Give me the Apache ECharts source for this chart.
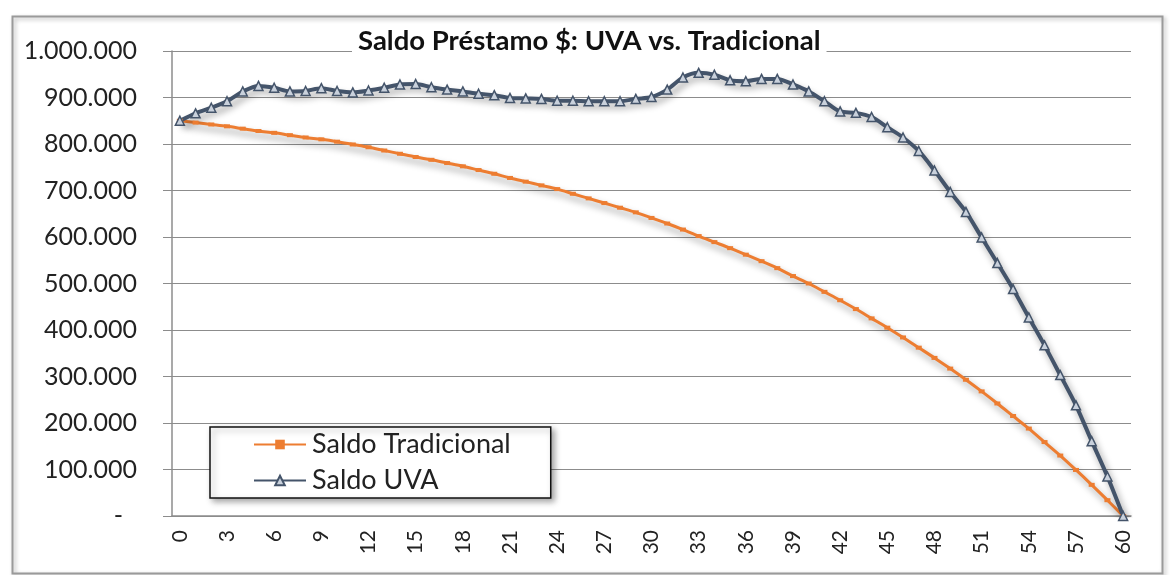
<!DOCTYPE html>
<html>
<head>
<meta charset="utf-8">
<script src="https://cdn.jsdelivr.net/npm/echarts@6/dist/echarts.min.js"></script>
<style>
  html, body { margin: 0; padding: 0; background: #fff; }
  #chart { width: 1171px; height: 575px; }
</style>
</head>
<body>
<div id="chart"></div>
<script>
// periodos 0..60
const periodos = Array.from({ length: 61 }, (_, i) => String(i));

const saldoTradicional = [
  850000, 846000, 842000, 838000, 833000, 828000, 824000, 819000, 814000, 810000,
  805000, 799000, 793000, 786000, 779000, 772000, 766000, 759000, 752000, 744000,
  736000, 727000, 719000, 711000, 703000, 693000, 683000, 673000, 663000, 653000,
  641000, 629000, 616000, 602000, 589000, 576000, 562000, 548000, 533000, 516000,
  500000, 482000, 464000, 445000, 425000, 405000, 384000, 362000, 340000, 317000,
  293000, 268000, 242000, 215000, 188000, 159000, 130000, 99000, 67000, 34000, 0
];

const saldoUVA = [
  850000, 866000, 878000, 892000, 913000, 925000, 921000, 913000, 914000, 920000,
  914000, 911000, 915000, 921000, 928000, 929000, 922000, 917000, 913000, 908000,
  905000, 899000, 898000, 897000, 893000, 893000, 892000, 892000, 892000, 897000,
  901000, 917000, 943000, 953000, 949000, 937000, 935000, 940000, 940000, 928000,
  913000, 892000, 870000, 867000, 858000, 836000, 814000, 785000, 743000, 697000,
  654000, 599000, 544000, 488000, 427000, 367000, 303000, 238000, 161000, 85000, 0
];

const FONT = "Lato";

const valReplaceComma = (value, elem) => {
  return value.toString().replace(/\B(?=(\d{3})+(?!\d))/g, elem || " ");
};

const lineShadow = {
  shadowColor: "rgba(0,0,0,0.4)",
  shadowBlur: 7,
  shadowOffsetX: 3,
  shadowOffsetY: 5
};

const option = {
  animation: false,
  backgroundColor: "#fff",
  title: {
    text: "Saldo Préstamo $: UVA vs. Tradicional",
    left: 352,
    top: 25,
    padding: [2, 6, 4, 6],
    backgroundColor: "#fff",
    textStyle: { fontFamily: FONT, fontSize: 27.5, fontWeight: "bold", color: "#111" }
  },
  legend: {
    orient: "vertical",
    left: 210,
    top: 427,
    padding: [4, 40, 4, 43],
    itemWidth: 52,
    itemHeight: 12,
    itemGap: 9,
    borderColor: "#111",
    borderWidth: 1.5,
    backgroundColor: "#fff",
    shadowColor: "rgba(0,0,0,0.35)",
    shadowBlur: 6,
    shadowOffsetX: 3,
    shadowOffsetY: 3,
    textStyle: { fontFamily: FONT, fontSize: 27, color: "#222", padding: [0, 0, 0, 1] },
    data: ["Saldo Tradicional", "Saldo UVA"]
  },
  grid: { left: 172, right: 40, top: 51, bottom: 59 },
  xAxis: {
    type: "category",
    data: periodos,
    boundaryGap: true,
    axisLine: { lineStyle: { color: "#8c8c8c", width: 1.5 } },
    axisTick: { interval: 0, length: 6, lineStyle: { color: "#8c8c8c" } },
    axisLabel: {
      interval: 2,
      rotate: 90,
      margin: 14,
      fontFamily: FONT,
      fontSize: 21,
      color: "#222"
    }
  },
  yAxis: {
    type: "value",
    min: 0,
    max: 1000000,
    interval: 100000,
    axisLine: { show: true, lineStyle: { color: "#8c8c8c", width: 1.5 } },
    axisTick: { show: true, length: 9, lineStyle: { color: "#8c8c8c" } },
    splitLine: { lineStyle: { color: "#8c8c8c", width: 1.2 } },
    axisLabel: {
      margin: 35,
      fontFamily: FONT,
      fontSize: 25,
      color: "#222",
      formatter: (v) => (v === 0 ? "{z|-}" : valReplaceComma(v, ".")),
      rich: { z: { fontFamily: FONT, fontSize: 25, color: "#222", padding: [0, 14, 0, 0] } }
    }
  },
  graphic: [
    {
      type: "rect",
      left: 10,
      top: 14,
      shape: { width: 1150, height: 557 },
      style: {
        fill: "none",
        stroke: "#9a9a9a",
        lineWidth: 2,
        shadowColor: "rgba(0,0,0,0.3)",
        shadowBlur: 4,
        shadowOffsetX: 2,
        shadowOffsetY: 2
      },
      z: -1
    }
  ],
  series: [
    {
      name: "Saldo Tradicional",
      type: "line",
      data: saldoTradicional,
      smooth: 0.3,
      symbol: "rect",
      symbolSize: [6, 4],
      showAllSymbol: true,
      lineStyle: Object.assign({ color: "#ED7D31", width: 3 }, lineShadow),
      itemStyle: { color: "#ED7D31" }
    },
    {
      name: "Saldo UVA",
      type: "line",
      data: saldoUVA,
      smooth: 0.3,
      symbol: "triangle",
      symbolSize: 9,
      showAllSymbol: true,
      lineStyle: Object.assign({ color: "#44546A", width: 4 }, lineShadow),
      itemStyle: { color: "#c9d1dc", borderColor: "#44546A", borderWidth: 1.5 }
    }
  ]
};

const myChart = echarts.init(document.getElementById("chart"));
myChart.setOption(option, true);
</script>
</body>
</html>
